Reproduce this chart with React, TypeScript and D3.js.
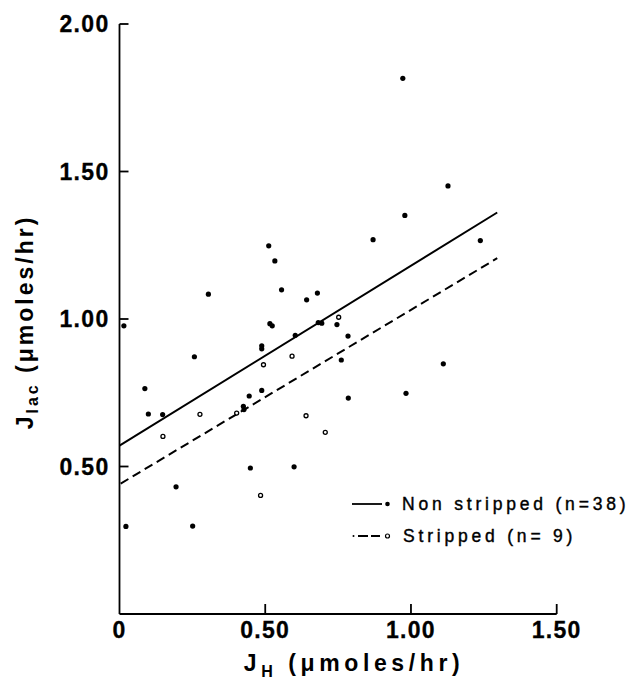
import React from 'react';
import * as d3 from 'd3';

// values
const nonStrippedX = [0.015, 0.022, 0.087, 0.099, 0.148, 0.194, 0.251, 0.257, 0.305, 0.425,
  0.427, 0.445, 0.449, 0.488, 0.488, 0.488, 0.512, 0.533, 0.516, 0.524,
  0.556, 0.599, 0.603, 0.642, 0.679, 0.682, 0.694, 0.746, 0.761, 0.784,
  0.785, 0.870, 0.972, 0.979, 0.983, 1.111, 1.127, 1.238];
const nonStrippedY = [0.977, 0.297, 0.764, 0.678, 0.676, 0.431, 0.298, 0.872, 1.084, 0.704,
  0.693, 0.739, 0.495, 0.909, 0.899, 0.758, 1.248, 1.197, 0.984, 0.977,
  1.099, 0.499, 0.945, 1.065, 1.088, 0.988, 0.986, 0.981, 0.861, 0.942,
  0.732, 1.269, 1.816, 1.351, 0.748, 0.848, 1.451, 1.266];

const strippedX = [0.149, 0.276, 0.402, 0.484, 0.494, 0.592, 0.640, 0.706, 0.752];
const strippedY = [0.602, 0.677, 0.681, 0.402, 0.845, 0.874, 0.672, 0.616, 1.006];

// regression lines (end points)
const nonStrippedLine: [number, number][] = [[0, 0.571], [1.296, 1.361]];
const strippedLine: [number, number][] = [[0.004, 0.442], [1.296, 1.206]];

const xTicks = [0, 0.5, 1.0, 1.5];
const yTicks = [0.5, 1.0, 1.5, 2.0];

const legendLabels = ['Non stripped (n=38)', 'Stripped (n= 9)'];

const W = 629;
const H = 682;

export default function App() {
  const x = d3.scaleLinear().domain([0, 1.5]).range([119.5, 556.7]);
  const y = d3.scaleLinear().domain([0, 2]).range([614, 24]);
  const line = d3.line<[number, number]>().x(d => x(d[0])).y(d => y(d[1]));

  const font = '"Liberation Sans", Arial, Helvetica, sans-serif';

  return (
    <svg width={W} height={H} style={{ position: 'absolute', left: 0, top: 0, background: '#fff' }}
      fontFamily={font}>
      <rect width={W} height={H} fill="#fff" />

      {/* axes */}
      <g stroke="#000" strokeWidth={1.8} fill="none">
        <line x1={x(0)} x2={x(0)} y1={y(0)} y2={y(2)} />
        <line x1={x(0)} x2={x(1.5)} y1={y(0)} y2={y(0)} />
        {yTicks.map(t => (
          <line key={'yt' + t} x1={x(0)} x2={x(0) + 9} y1={y(t)} y2={y(t)} />
        ))}
        {xTicks.filter(t => t > 0).map(t => (
          <line key={'xt' + t} x1={x(t)} x2={x(t)} y1={y(0)} y2={y(0) - 10} />
        ))}
      </g>

      {/* tick labels */}
      <g fontSize={23} fontWeight="bold" fill="#000" letterSpacing={1.3} stroke="#000" strokeWidth={0.3}>
        {yTicks.map(t => (
          <text key={'yl' + t} x={x(0) - 10} y={y(t) + 8} textAnchor="end">{t.toFixed(2)}</text>
        ))}
        {xTicks.map(t => (
          <text key={'xl' + t} x={x(t)} y={638} textAnchor="middle">{t === 0 ? '0' : t.toFixed(2)}</text>
        ))}
      </g>

      {/* axis titles */}
      <text x={354} y={671} textAnchor="middle" fontSize={23} fontWeight="bold" letterSpacing={4.6}>
        J<tspan fontSize={16} dy={6}>H</tspan>
        <tspan dy={-6}> (μmoles/hr)</tspan>
      </text>
      <text transform="translate(33,322) rotate(-90)" textAnchor="middle" fontSize={23} fontWeight="bold" letterSpacing={3}>
        J<tspan fontSize={16} dy={5}>lac</tspan>
        <tspan dy={-5}> (μmoles/hr)</tspan>
      </text>

      {/* regression lines */}
      <path d={line(nonStrippedLine) || ''} stroke="#000" strokeWidth={2} fill="none" />
      <path d={line(strippedLine) || ''} stroke="#000" strokeWidth={2} fill="none" strokeDasharray="9 5" />

      {/* points */}
      {nonStrippedX.map((v, i) => (
        <circle key={'n' + i} cx={x(v)} cy={y(nonStrippedY[i])} r={2.6} fill="#000" />
      ))}
      {strippedX.map((v, i) => (
        <circle key={'s' + i} cx={x(v)} cy={y(strippedY[i])} r={2} fill="#fff" stroke="#000" strokeWidth={1.3} />
      ))}

      {/* legend */}
      <g>
        <line x1={352} x2={382} y1={504} y2={504} stroke="#000" strokeWidth={1.8} />
        <circle cx={387.5} cy={504} r={2.3} fill="#000" />
        <circle cx={353.5} cy={536} r={1} fill="#000" />
        <line x1={358} x2={380} y1={536} y2={536} stroke="#000" strokeWidth={1.8} strokeDasharray="10 3" />
        <circle cx={387.5} cy={536} r={2} fill="#fff" stroke="#000" strokeWidth={1.2} />
        <g fontSize={17.5} letterSpacing={3.8} fill="#000" stroke="#000" strokeWidth={0.4}>
          <text x={402} y={510}>{legendLabels[0]}</text>
          <text x={403} y={542}>{legendLabels[1]}</text>
        </g>
      </g>
    </svg>
  );
}
